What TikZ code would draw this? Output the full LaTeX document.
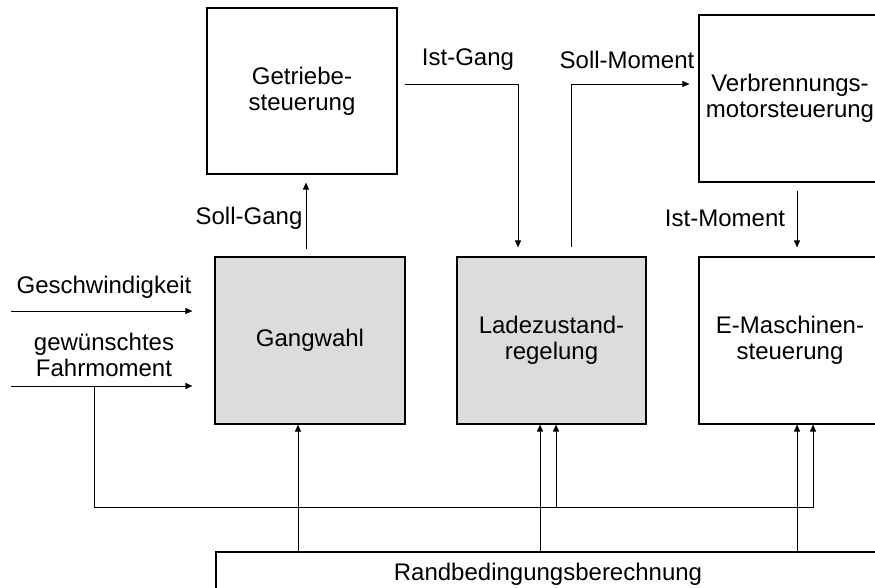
\documentclass[tikz,border=0pt]{standalone}
\usepackage{fontspec}
\setmainfont{Liberation Sans}
\usetikzlibrary{arrows.meta}
\definecolor{blockgray}{HTML}{DCDCDC}
\begin{document}
\begin{tikzpicture}[x=1pt,y=-1pt,
  every node/.style={font=\fontsize{24}{26}\selectfont, inner sep=0pt},
  unit/.style={draw=black, line width=1.1pt, align=center, minimum height=167pt},
  ctrl/.style={unit, fill=blockgray},
  link/.style={draw=black, line width=0.9pt, -{Triangle[length=7pt,width=6pt]}},
  wire/.style={draw=black, line width=0.9pt}
]
\path[use as bounding box, clip] (0,0) rectangle (875,588);

% control units
\node[unit, minimum width=190pt, minimum height=166pt] (getr) at (302,91) {Getriebe-\\steuerung};
\node[unit, minimum width=182pt] (verb) at (790,98.5) {Verbrennungs-\\motorsteuerung};
\node[ctrl, minimum width=190pt] (gang) at (310,340.5) {Gangwahl};
\node[ctrl, minimum width=189pt] (lade) at (551.5,340.5) {Ladezustand-\\regelung};
\node[unit, minimum width=182pt] (emasch) at (790,340.5) {E-Maschinen-\\steuerung};
\node[unit, minimum width=664pt, minimum height=44pt] (rand) at (548,574) {Randbedingungsberechnung};

% signal labels
\node (lgesch) at (104,287) {Geschwindigkeit};
\node[align=center] (lfahr) at (104,355) {gewünschtes\\Fahrmoment};
\node (lsollg) at (249,218) {Soll-Gang};
\node (listg) at (468,60) {Ist-Gang};
\node (lsollm) at (627,60) {Soll-Moment};
\node (listm) at (725,218) {Ist-Moment};

% routing points
\coordinate (inV) at (11,311);
\coordinate (inM) at (11,386);
\coordinate (tap) at (94,386);
\coordinate (bus) at (94,507);
\coordinate (xsg) at (306,0);
\coordinate (xig) at (518,84);
\coordinate (xsm) at (571,84);
\coordinate (xim) at (797,0);
\coordinate (xr1) at (298,0);
\coordinate (xr2) at (540,0);
\coordinate (xr3) at (797,0);
\coordinate (xb2) at (556,0);
\coordinate (xb3) at (813,0);

% external inputs
\draw[link, shorten >=22pt] (inV) -- (inV -| gang.west);
\draw[link, shorten >=22pt] (inM) -- (inM -| gang.west);

% driver torque distributed along the bus
\draw[link] (tap) |- (bus -| xb3) -- (emasch.south -| xb3);
\draw[link] (bus -| xb2) -- (lade.south -| xb2);

% signals between the units
\draw[link, shorten <=7pt, shorten >=8pt] (gang.north -| xsg) -- (getr.south -| xsg);
\draw[link, shorten <=7pt, shorten >=9pt] (getr.east |- xig) -| (lade.north -| xig);
\draw[link, shorten <=9pt, shorten >=9pt] (lade.north -| xsm) |- (verb.west |- xsm);
\draw[link, shorten <=8pt, shorten >=9pt] (verb.south -| xim) -- (emasch.north -| xim);

% constraints from the boundary computation
\draw[link] (rand.north -| xr1) -- (gang.south -| xr1);
\draw[link] (rand.north -| xr2) -- (lade.south -| xr2);
\draw[link] (rand.north -| xr3) -- (emasch.south -| xr3);
\end{tikzpicture}
\end{document}
